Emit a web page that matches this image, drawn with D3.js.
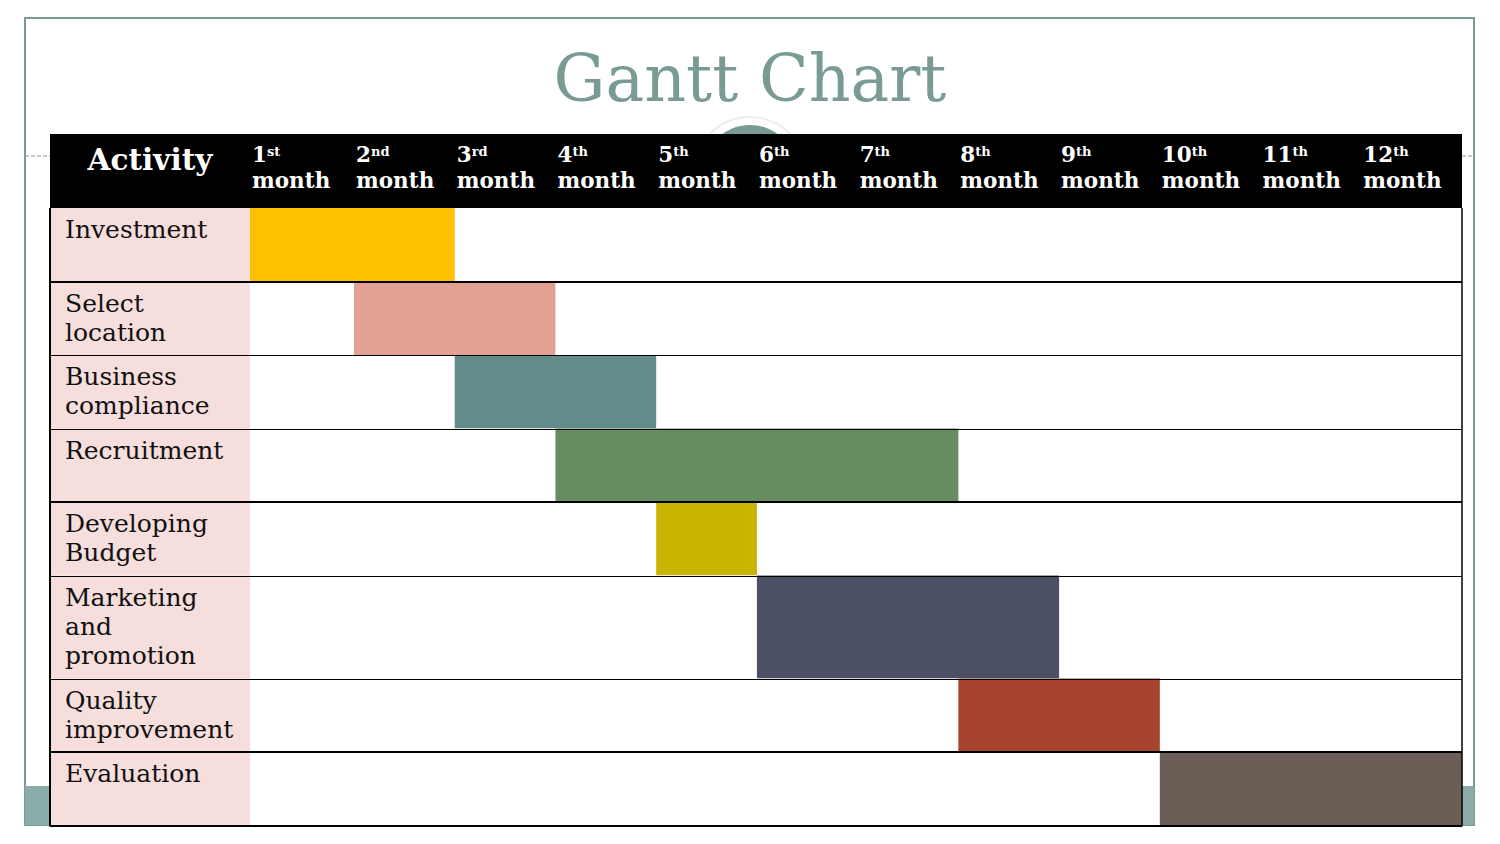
<!DOCTYPE html>
<html><head><meta charset="utf-8">
<script src="https://cdn.jsdelivr.net/npm/d3@7/dist/d3.min.js"></script>
<style>html,body{margin:0;padding:0;background:#fff;}svg{display:block;}</style>
</head><body>
<svg id="chart" width="1500" height="844"></svg>
<script>
// ---- data ----
const title = "Gantt Chart";
const headerLabel = "Activity";
const monthNumbers = ["1","2","3","4","5","6","7","8","9","10","11","12"];
const monthSuffixes = ["st","nd","rd","th","th","th","th","th","th","th","th","th"];
const monthWord = "month";
const activities = ["Investment","Select\nlocation","Business\ncompliance","Recruitment","Developing\nBudget","Marketing\nand\npromotion","Quality\nimprovement","Evaluation"];
const startMonth = [1,2,3,4,5,6,8,10];
const endMonth   = [2,3,4,7,5,8,9,12];
const barColors  = ["#FFC000","#E2A293","#638B8A","#658D5F","#C9B500","#4B5064","#A7442D","#6B5E56"];
const thickAfter = [true,false,false,true,false,false,true,true];

// ---- layout ----
const svg = d3.select("#chart");
const teal = "#7A9A95";
const left = 50, right = 1462, labelW = 200, headerTop = 134, headerBottom = 208;
const fontSerif = "'DejaVu Serif', serif";

// frame
svg.append("rect").attr("x",25).attr("y",18).attr("width",1449).attr("height",807)
  .attr("fill","#fff").attr("stroke",teal).attr("stroke-width",2);
svg.append("rect").attr("x",25).attr("y",786).attr("width",25).attr("height",39).attr("fill","#8AACA8");
svg.append("rect").attr("x",1462).attr("y",786).attr("width",12).attr("height",39).attr("fill","#8AACA8");
[[25,50],[1462,1474]].forEach(([a,b])=>{
  svg.append("line").attr("x1",a).attr("x2",b).attr("y1",156).attr("y2",156)
    .attr("stroke","#8a9a98").attr("stroke-width",1).attr("stroke-dasharray","4,2");
});
// decorative circle
svg.append("circle").attr("cx",750).attr("cy",173).attr("r",56).attr("fill","#fff").attr("stroke","#ececec").attr("stroke-width",2);
svg.append("circle").attr("cx",750).attr("cy",173).attr("r",48).attr("fill",teal);

// title
svg.append("text").attr("x",750).attr("y",101).attr("text-anchor","middle")
  .attr("font-family",fontSerif).attr("font-size",65).attr("fill",teal).text(title);

// scales
const x = d3.scaleLinear().domain([0,1,12]).range([left+labelW, 354, right]);
const lineCounts = activities.map(a=>a.split("\n").length);
const heights = lineCounts.map(n=>14.5+29.5*Math.max(2,n));
const tops = Array.from(d3.cumsum([0,...heights]), v=>v+headerBottom);
const y = i => tops[i];

// header
svg.append("rect").attr("x",left).attr("y",headerTop).attr("width",right-left).attr("height",headerBottom-headerTop).attr("fill","#000");
svg.append("text").attr("x",left+labelW/2).attr("y",170).attr("text-anchor","middle")
  .attr("font-family",fontSerif).attr("font-weight","bold").attr("font-size",29.5).attr("fill","#fff").text(headerLabel);
const mh = svg.append("g").selectAll("g").data(monthNumbers).join("g")
  .attr("transform",(d,i)=>`translate(${x(i)+2},0)`);
const t1 = mh.append("text").attr("y",162).attr("font-family",fontSerif).attr("font-weight","bold").attr("fill","#fff").attr("font-size",21.5);
t1.append("tspan").text(d=>d);
t1.append("tspan").attr("font-size",13).attr("dy",-6).text((d,i)=>monthSuffixes[i]);
mh.append("text").attr("y",188).attr("font-family",fontSerif).attr("font-weight","bold").attr("fill","#fff").attr("font-size",21.5).text(monthWord);

// rows
const rows = svg.append("g").selectAll("g").data(activities).join("g");
rows.append("rect").attr("x",left).attr("y",(d,i)=>y(i)).attr("width",labelW).attr("height",(d,i)=>heights[i]).attr("fill","#F5DEDC");
rows.append("rect").attr("x",left+labelW).attr("y",(d,i)=>y(i)).attr("width",right-left-labelW).attr("height",(d,i)=>heights[i]).attr("fill","#fff");
rows.append("rect")
  .attr("x",(d,i)=>x(startMonth[i]-1)).attr("y",(d,i)=>y(i))
  .attr("width",(d,i)=>x(endMonth[i])-x(startMonth[i]-1)).attr("height",(d,i)=>heights[i])
  .attr("fill",(d,i)=>barColors[i]);
const lbl = rows.append("text").attr("font-family",fontSerif).attr("font-size",25).attr("fill","#111");
lbl.selectAll("tspan").data((d,i)=>d.split("\n").map(s=>({s,i}))).join("tspan")
  .attr("x",left+15).attr("y",(d,k)=>y(d.i)+30+k*29).text(d=>d.s);

// row separators (drawn after all rows)
svg.append("g").selectAll("line").data(activities).join("line")
  .attr("x1",left).attr("x2",right)
  .attr("y1",(d,i)=>Math.round(y(i+1))+(thickAfter[i]?0:0.5))
  .attr("y2",(d,i)=>Math.round(y(i+1))+(thickAfter[i]?0:0.5))
  .attr("stroke","#000").attr("stroke-width",(d,i)=>thickAfter[i]?2:1);
// table border
svg.append("line").attr("x1",left).attr("x2",left).attr("y1",headerBottom).attr("y2",y(activities.length)+1).attr("stroke","#000").attr("stroke-width",2);
svg.append("line").attr("x1",right).attr("x2",right).attr("y1",headerBottom).attr("y2",y(activities.length)+1).attr("stroke","#000").attr("stroke-width",1.5);
</script>
</body></html>
